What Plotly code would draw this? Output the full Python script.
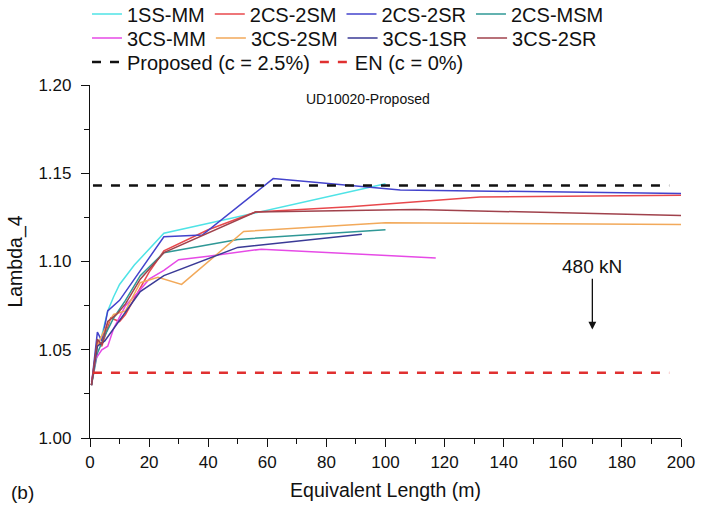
import plotly.graph_objects as go

# Lambda_4 versus equivalent length, UD10020 column, proposed method
names = ["1SS-MM", "2CS-2SM", "2CS-2SR", "2CS-MSM",
         "3CS-MM", "3CS-2SM", "3CS-1SR", "3CS-2SR"]
colors = ["#4fe3e6", "#e8484c", "#4343cc", "#2f9896",
          "#e64ae6", "#f2a95a", "#3a3a96", "#a0424c"]

x_1ss_mm = [0.5, 2.5, 4, 6, 8, 10, 15, 20, 25, 100]
y_1ss_mm = [1.030, 1.052, 1.058, 1.072, 1.080, 1.087, 1.098, 1.107, 1.116, 1.144]

x_2cs_2sm = [0.5, 2.5, 4, 7, 10, 12, 20, 25, 40, 56, 88, 132, 200]
y_2cs_2sm = [1.030, 1.055, 1.052, 1.068, 1.066, 1.070, 1.094, 1.106, 1.118, 1.128, 1.131, 1.1365, 1.1375]

x_2cs_2sr = [0.5, 2.5, 4, 6, 10, 17, 25, 38, 62, 105, 200]
y_2cs_2sr = [1.030, 1.060, 1.055, 1.072, 1.078, 1.095, 1.114, 1.115, 1.147, 1.1405, 1.1385]

x_2cs_msm = [0.5, 2.5, 5, 8, 12, 17, 25, 50, 100]
y_2cs_msm = [1.030, 1.048, 1.058, 1.068, 1.078, 1.092, 1.105, 1.1125, 1.118]

x_3cs_mm = [0.5, 2, 4, 6, 8, 12, 16, 20, 25, 30, 40, 58, 117]
y_3cs_mm = [1.032, 1.045, 1.050, 1.052, 1.062, 1.075, 1.082, 1.090, 1.095, 1.101, 1.103, 1.107, 1.102]

x_3cs_2sm = [0.5, 2.5, 4, 6, 8, 12, 17, 23, 31, 52, 100, 200]
y_3cs_2sm = [1.030, 1.052, 1.058, 1.065, 1.070, 1.072, 1.088, 1.091, 1.087, 1.117, 1.122, 1.121]

x_3cs_1sr = [0.5, 2.5, 5, 8, 12, 17, 25, 50, 92]
y_3cs_1sr = [1.030, 1.052, 1.055, 1.062, 1.072, 1.083, 1.092, 1.108, 1.1155]

x_3cs_2sr = [0.5, 2.5, 4, 6, 9, 12, 17, 25, 56, 110, 200]
y_3cs_2sr = [1.030, 1.056, 1.053, 1.066, 1.070, 1.076, 1.090, 1.105, 1.128, 1.1295, 1.126]

xs = [x_1ss_mm, x_2cs_2sm, x_2cs_2sr, x_2cs_msm, x_3cs_mm, x_3cs_2sm, x_3cs_1sr, x_3cs_2sr]
ys = [y_1ss_mm, y_2cs_2sm, y_2cs_2sr, y_2cs_msm, y_3cs_mm, y_3cs_2sm, y_3cs_1sr, y_3cs_2sr]

# Design reference levels
ref_names = ["Proposed (c = 2.5%)", "EN (c = 0%)"]
ref_values = [1.143, 1.037]
ref_colors = ["#111111", "#e03030"]
ref_x = [1, 196]

FONT = "Liberation Sans, Arial, sans-serif"
INK = "#111"

fig = go.Figure()
for i, (n, c, x, y) in enumerate(zip(names, colors, xs, ys)):
    fig.add_trace(go.Scatter(
        x=x, y=y, mode="lines", name=n,
        line=dict(color=c, width=1.5),
        legend="legend" if i < 4 else "legend2",
    ))
for n, v, c in zip(ref_names, ref_values, ref_colors):
    fig.add_trace(go.Scatter(
        x=ref_x, y=[v, v], mode="lines", name=n,
        line=dict(color=c, width=2.5, dash="dash"),
        legend="legend3",
    ))

# one legend per row, placed in container coordinates above the plot
leg_common = dict(orientation="h", xanchor="left", yanchor="middle",
                  x=0.122, xref="container", yref="container",
                  font=dict(family=FONT, size=20, color=INK),
                  bgcolor="rgba(0,0,0,0)", itemwidth=30)

fig.update_layout(
    width=713, height=509,
    margin=dict(l=90, r=32, t=85, b=71, autoexpand=False),
    paper_bgcolor="white", plot_bgcolor="white",
    font=dict(family=FONT, size=17, color=INK),
    showlegend=True,
    legend=dict(leg_common, y=1 - 14 / 509),
    legend2=dict(leg_common, y=1 - 38 / 509),
    legend3=dict(leg_common, y=1 - 62 / 509),
    xaxis=dict(
        range=[0, 200], dtick=20, tick0=0,
        showgrid=False, zeroline=False,
        showline=True, linecolor=INK, linewidth=1.2,
        ticks="outside", ticklen=8, tickwidth=1.2, tickcolor=INK,
        minor=dict(dtick=10, ticks="outside", ticklen=5, tickwidth=1.2, tickcolor=INK),
        tickfont=dict(family=FONT, size=17, color=INK),
        title=dict(text="Equivalent Length (m)", standoff=12,
                   font=dict(family=FONT, size=19.5, color=INK)),
    ),
    yaxis=dict(
        range=[1.0, 1.2], dtick=0.05, tick0=1.0, tickformat=".2f",
        showgrid=False, zeroline=False,
        showline=True, linecolor=INK, linewidth=1.2,
        ticks="outside", ticklen=8, tickwidth=1.2, tickcolor=INK,
        minor=dict(dtick=0.025, ticks="outside", ticklen=5, tickwidth=1.2, tickcolor=INK),
        tickfont=dict(family=FONT, size=17, color=INK),
        ticklabelstandoff=6,
        title=dict(text="Lambda_4", standoff=10,
                   font=dict(family=FONT, size=19.5, color=INK)),
    ),
)

fig.add_annotation(x=94, y=1.192, xref="x", yref="y", text="UD10020-Proposed",
                   showarrow=False, font=dict(family=FONT, size=14, color=INK))
fig.add_annotation(x=170, y=1.0615, ax=170, ay=1.097, xref="x", yref="y",
                   axref="x", ayref="y", text="480 kN", showarrow=True,
                   arrowhead=2, arrowsize=1.2, arrowwidth=1.3, arrowcolor=INK,
                   font=dict(family=FONT, size=19, color=INK))
fig.add_annotation(x=-0.115, y=-0.153, xref="paper", yref="paper", text="(b)",
                   xanchor="center", yanchor="middle",
                   showarrow=False, font=dict(family=FONT, size=19, color=INK))

fig.write_html("out.html")
